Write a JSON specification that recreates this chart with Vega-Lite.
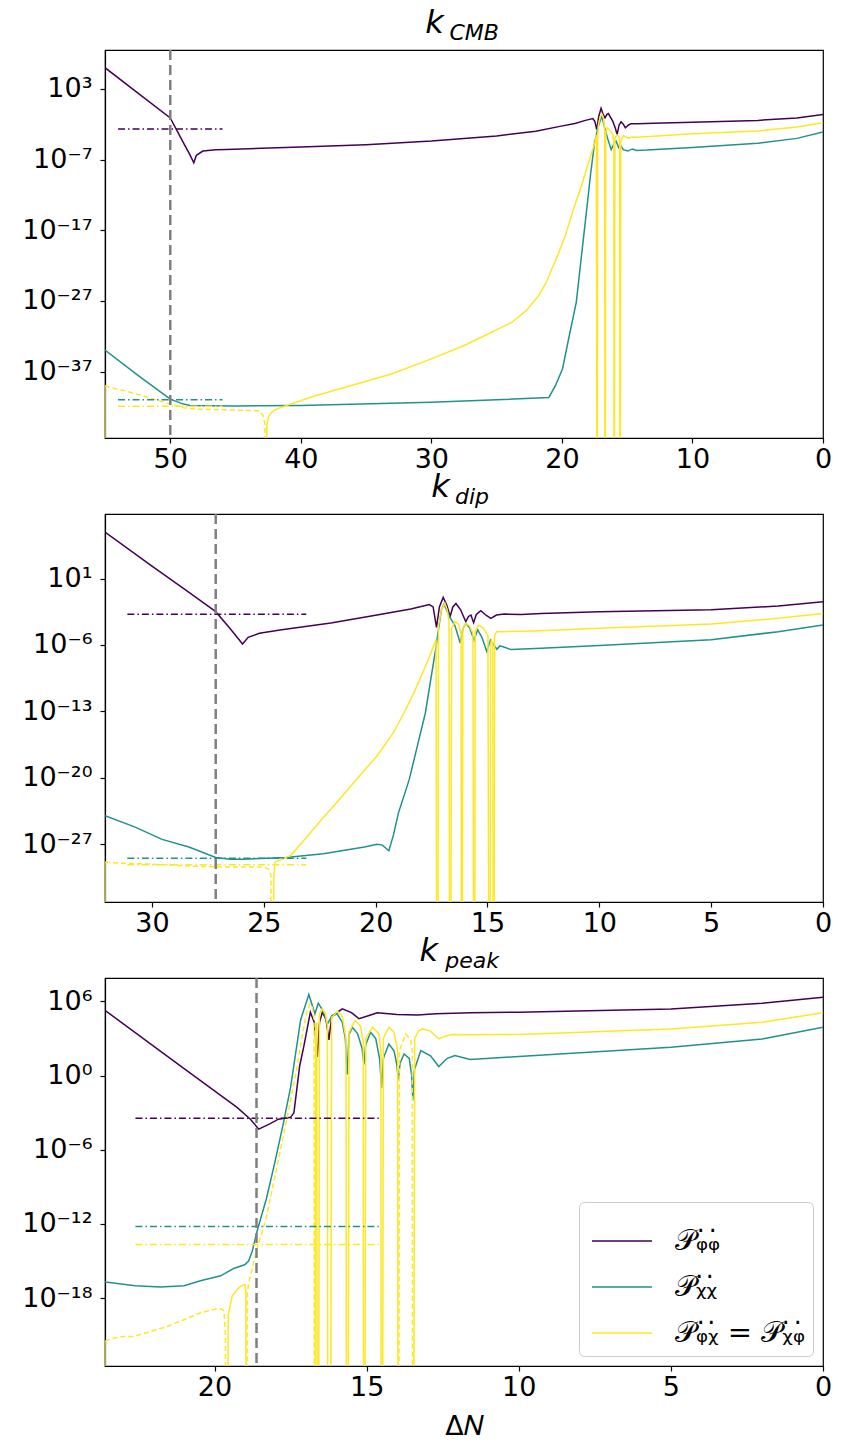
{
  "$schema": "https://vega.github.io/schema/vega-lite/v6.json",
  "padding": {"left": 4, "top": 6, "right": 16, "bottom": 6},
  "spacing": -3,
  "config": {
    "font": "DejaVu Sans",
    "view": {"stroke": "black", "strokeWidth": 1.2},
    "axis": {"grid": false, "labelFont": "DejaVu Sans", "labelFontSize": 27, "labelColor": "black", "tickColor": "black", "domainColor": "black", "tickSize": 5, "tickWidth": 1.2, "domainWidth": 1.2, "labelPadding": 3, "titleFont": "DejaVu Sans", "titleFontSize": 27, "titleFontWeight": "normal", "titleColor": "black", "labelFlush": false, "labelOverlap": false},
    "axisX": {"maxExtent": 40},
    "axisY": {"minExtent": 100, "maxExtent": 100, "labelPadding": 8},
    "title": {"font": "DejaVu Sans", "fontStyle": "italic", "fontWeight": "normal", "fontSize": 32, "color": "black", "subtitleFont": "DejaVu Sans", "subtitleFontStyle": "italic", "subtitleFontSize": 22, "subtitleColor": "black", "subtitlePadding": -17, "offset": 0, "anchor": "middle"},
    "line": {"strokeWidth": 1.5, "clip": true}
  },
  "resolve": {"scale": {"x": "independent", "y": "independent", "color": "independent"}, "legend": {"color": "independent"}},
  "datasets": {
    "vl": [{"p": 1, "x": 50}, {"p": 2, "x": 27.15}, {"p": 3, "x": 18.62}],
    "refs": [
      {"p": 1, "s": "pp", "x1": 54.0, "x2": 46.0, "y": 2.2e-3},
      {"p": 1, "s": "cc", "x1": 54.0, "x2": 46.0, "y": 1e-41},
      {"p": 1, "s": "pc", "x1": 54.0, "x2": 46.0, "y": 1.26e-42},
      {"p": 2, "s": "pp", "x1": 31.1, "x2": 23.1, "y": 1.66e-3},
      {"p": 2, "s": "cc", "x1": 31.1, "x2": 23.1, "y": 3.2e-29},
      {"p": 2, "s": "pc", "x1": 31.1, "x2": 23.1, "y": 6.9e-30},
      {"p": 3, "s": "pp", "x1": 22.6, "x2": 14.6, "y": 3.6e-4},
      {"p": 3, "s": "cc", "x1": 22.6, "x2": 14.6, "y": 6.3e-13},
      {"p": 3, "s": "pc", "x1": 22.6, "x2": 14.6, "y": 2.2e-14}
    ],
    "curves": [
      {"p": 1, "s": "pp", "g": 0, "x": 55.0, "y": 1e6},
      {"p": 1, "s": "pp", "g": 0, "x": 52.5, "y": 2.8e2},
      {"p": 1, "s": "pp", "g": 0, "x": 50.0, "y": 7.9e-2},
      {"p": 1, "s": "pp", "g": 0, "x": 49.0, "y": 2.5e-5},
      {"p": 1, "s": "pp", "g": 0, "x": 48.5, "y": 5e-7},
      {"p": 1, "s": "pp", "g": 0, "x": 48.2, "y": 3.5e-8},
      {"p": 1, "s": "pp", "g": 0, "x": 48.0, "y": 4e-7},
      {"p": 1, "s": "pp", "g": 0, "x": 47.5, "y": 1.6e-6},
      {"p": 1, "s": "pp", "g": 0, "x": 46.5, "y": 2.4e-6},
      {"p": 1, "s": "pp", "g": 0, "x": 45.7, "y": 2.7e-6},
      {"p": 1, "s": "pp", "g": 0, "x": 40.0, "y": 5.8e-6},
      {"p": 1, "s": "pp", "g": 0, "x": 35.0, "y": 1.26e-5},
      {"p": 1, "s": "pp", "g": 0, "x": 30.0, "y": 4.1e-5},
      {"p": 1, "s": "pp", "g": 0, "x": 25.0, "y": 2.2e-4},
      {"p": 1, "s": "pp", "g": 0, "x": 22.0, "y": 1e-3},
      {"p": 1, "s": "pp", "g": 0, "x": 20.06, "y": 5.4e-3},
      {"p": 1, "s": "pp", "g": 0, "x": 19.0, "y": 1.26e-2},
      {"p": 1, "s": "pp", "g": 0, "x": 18.2, "y": 3.5e-2},
      {"p": 1, "s": "pp", "g": 0, "x": 17.63, "y": 6.5e-2},
      {"p": 1, "s": "pp", "g": 0, "x": 17.48, "y": 2.5e-2},
      {"p": 1, "s": "pp", "g": 0, "x": 17.33, "y": 1.8e-3},
      {"p": 1, "s": "pp", "g": 0, "x": 17.18, "y": 0.126},
      {"p": 1, "s": "pp", "g": 0, "x": 17.0, "y": 1.78},
      {"p": 1, "s": "pp", "g": 0, "x": 16.85, "y": 0.28},
      {"p": 1, "s": "pp", "g": 0, "x": 16.7, "y": 7.9e-2},
      {"p": 1, "s": "pp", "g": 0, "x": 16.55, "y": 0.25},
      {"p": 1, "s": "pp", "g": 0, "x": 16.44, "y": 0.32},
      {"p": 1, "s": "pp", "g": 0, "x": 16.1, "y": 2.5e-2},
      {"p": 1, "s": "pp", "g": 0, "x": 15.9, "y": 2.5e-3},
      {"p": 1, "s": "pp", "g": 0, "x": 15.77, "y": 3.5e-4},
      {"p": 1, "s": "pp", "g": 0, "x": 15.62, "y": 7.9e-3},
      {"p": 1, "s": "pp", "g": 0, "x": 15.47, "y": 2.2e-2},
      {"p": 1, "s": "pp", "g": 0, "x": 15.3, "y": 1e-2},
      {"p": 1, "s": "pp", "g": 0, "x": 15.14, "y": 3.2e-3},
      {"p": 1, "s": "pp", "g": 0, "x": 14.9, "y": 7.9e-3},
      {"p": 1, "s": "pp", "g": 0, "x": 14.7, "y": 1.15e-2},
      {"p": 1, "s": "pp", "g": 0, "x": 14.2, "y": 1.15e-2},
      {"p": 1, "s": "pp", "g": 0, "x": 13.0, "y": 1.4e-2},
      {"p": 1, "s": "pp", "g": 0, "x": 10.0, "y": 1.9e-2},
      {"p": 1, "s": "pp", "g": 0, "x": 5.0, "y": 3.5e-2},
      {"p": 1, "s": "pp", "g": 0, "x": 2.0, "y": 7.9e-2},
      {"p": 1, "s": "pp", "g": 0, "x": 0.0, "y": 0.23},

      {"p": 1, "s": "cc", "g": 0, "x": 55.0, "y": 1.1e-34},
      {"p": 1, "s": "cc", "g": 0, "x": 52.5, "y": 3.2e-38},
      {"p": 1, "s": "cc", "g": 0, "x": 50.0, "y": 1.26e-41},
      {"p": 1, "s": "cc", "g": 0, "x": 49.0, "y": 2.5e-42},
      {"p": 1, "s": "cc", "g": 0, "x": 48.5, "y": 1.6e-42},
      {"p": 1, "s": "cc", "g": 0, "x": 45.0, "y": 1.4e-42},
      {"p": 1, "s": "cc", "g": 0, "x": 40.0, "y": 1.6e-42},
      {"p": 1, "s": "cc", "g": 0, "x": 30.0, "y": 4.5e-42},
      {"p": 1, "s": "cc", "g": 0, "x": 25.0, "y": 1e-41},
      {"p": 1, "s": "cc", "g": 0, "x": 21.0, "y": 2.2e-41},
      {"p": 1, "s": "cc", "g": 0, "x": 20.5, "y": 1e-39},
      {"p": 1, "s": "cc", "g": 0, "x": 19.95, "y": 2.5e-37},
      {"p": 1, "s": "cc", "g": 0, "x": 19.5, "y": 3.2e-33},
      {"p": 1, "s": "cc", "g": 0, "x": 18.9, "y": 6.3e-28},
      {"p": 1, "s": "cc", "g": 0, "x": 18.5, "y": 2.5e-21},
      {"p": 1, "s": "cc", "g": 0, "x": 18.1, "y": 8.9e-15},
      {"p": 1, "s": "cc", "g": 0, "x": 17.8, "y": 1e-9},
      {"p": 1, "s": "cc", "g": 0, "x": 17.5, "y": 2.5e-5},
      {"p": 1, "s": "cc", "g": 0, "x": 17.2, "y": 6.3e-3},
      {"p": 1, "s": "cc", "g": 0, "x": 16.95, "y": 0.138},
      {"p": 1, "s": "cc", "g": 0, "x": 16.75, "y": 5e-3},
      {"p": 1, "s": "cc", "g": 0, "x": 16.5, "y": 1e-4},
      {"p": 1, "s": "cc", "g": 0, "x": 16.23, "y": 2.7e-6},
      {"p": 1, "s": "cc", "g": 0, "x": 16.0, "y": 2e-5},
      {"p": 1, "s": "cc", "g": 0, "x": 15.85, "y": 4e-5},
      {"p": 1, "s": "cc", "g": 0, "x": 15.65, "y": 5e-6},
      {"p": 1, "s": "cc", "g": 0, "x": 15.5, "y": 1e-5},
      {"p": 1, "s": "cc", "g": 0, "x": 15.3, "y": 2.5e-6},
      {"p": 1, "s": "cc", "g": 0, "x": 14.95, "y": 1.6e-6},
      {"p": 1, "s": "cc", "g": 0, "x": 14.6, "y": 3.2e-6},
      {"p": 1, "s": "cc", "g": 0, "x": 14.3, "y": 2e-6},
      {"p": 1, "s": "cc", "g": 0, "x": 13.5, "y": 2.2e-6},
      {"p": 1, "s": "cc", "g": 0, "x": 10.0, "y": 5e-6},
      {"p": 1, "s": "cc", "g": 0, "x": 5.0, "y": 2e-5},
      {"p": 1, "s": "cc", "g": 0, "x": 2.0, "y": 1e-4},
      {"p": 1, "s": "cc", "g": 0, "x": 0.0, "y": 7.9e-4},

      {"p": 1, "s": "pc", "g": 0, "x": 55.0, "y": 1e-60},
      {"p": 1, "s": "pc", "g": 0, "x": 55.0, "y": 1e-39},
      {"p": 1, "s": "pc", "g": 1, "x": 42.65, "y": 1e-60},
      {"p": 1, "s": "pc", "g": 1, "x": 42.6, "y": 3.2e-45},
      {"p": 1, "s": "pc", "g": 1, "x": 42.45, "y": 5e-44},
      {"p": 1, "s": "pc", "g": 1, "x": 42.2, "y": 2e-43},
      {"p": 1, "s": "pc", "g": 1, "x": 41.9, "y": 4.5e-43},
      {"p": 1, "s": "pc", "g": 1, "x": 41.1, "y": 1.6e-42},
      {"p": 1, "s": "pc", "g": 1, "x": 39.0, "y": 3.2e-41},
      {"p": 1, "s": "pc", "g": 1, "x": 36.2, "y": 1e-39},
      {"p": 1, "s": "pc", "g": 1, "x": 33.0, "y": 5e-38},
      {"p": 1, "s": "pc", "g": 1, "x": 30.0, "y": 6.3e-36},
      {"p": 1, "s": "pc", "g": 1, "x": 27.5, "y": 5e-34},
      {"p": 1, "s": "pc", "g": 1, "x": 25.9, "y": 1.26e-32},
      {"p": 1, "s": "pc", "g": 1, "x": 23.85, "y": 8.9e-31},
      {"p": 1, "s": "pc", "g": 1, "x": 22.7, "y": 5e-29},
      {"p": 1, "s": "pc", "g": 1, "x": 21.8, "y": 5e-27},
      {"p": 1, "s": "pc", "g": 1, "x": 21.2, "y": 4e-25},
      {"p": 1, "s": "pc", "g": 1, "x": 20.77, "y": 3.2e-23},
      {"p": 1, "s": "pc", "g": 1, "x": 20.25, "y": 6.3e-21},
      {"p": 1, "s": "pc", "g": 1, "x": 19.74, "y": 1.6e-18},
      {"p": 1, "s": "pc", "g": 1, "x": 19.12, "y": 8.9e-15},
      {"p": 1, "s": "pc", "g": 1, "x": 18.5, "y": 2e-11},
      {"p": 1, "s": "pc", "g": 1, "x": 17.89, "y": 1e-7},
      {"p": 1, "s": "pc", "g": 1, "x": 17.47, "y": 2.5e-5},
      {"p": 1, "s": "pc", "g": 1, "x": 17.36, "y": 3.2e-4},
      {"p": 1, "s": "pc", "g": 1, "x": 17.31, "y": 1e-60},
      {"p": 1, "s": "pc", "g": 2, "x": 17.29, "y": 1e-60},
      {"p": 1, "s": "pc", "g": 2, "x": 17.26, "y": 1e-4},
      {"p": 1, "s": "pc", "g": 2, "x": 17.2, "y": 1e-2},
      {"p": 1, "s": "pc", "g": 2, "x": 17.05, "y": 0.126},
      {"p": 1, "s": "pc", "g": 2, "x": 16.9, "y": 0.23},
      {"p": 1, "s": "pc", "g": 2, "x": 16.8, "y": 5e-2},
      {"p": 1, "s": "pc", "g": 2, "x": 16.72, "y": 1e-3},
      {"p": 1, "s": "pc", "g": 2, "x": 16.7, "y": 1e-60},
      {"p": 1, "s": "pc", "g": 3, "x": 16.68, "y": 1e-60},
      {"p": 1, "s": "pc", "g": 3, "x": 16.64, "y": 1e-3},
      {"p": 1, "s": "pc", "g": 3, "x": 16.5, "y": 3.2e-3},
      {"p": 1, "s": "pc", "g": 3, "x": 16.3, "y": 1.26e-3},
      {"p": 1, "s": "pc", "g": 3, "x": 16.1, "y": 3.2e-4},
      {"p": 1, "s": "pc", "g": 3, "x": 16.02, "y": 3.2e-5},
      {"p": 1, "s": "pc", "g": 3, "x": 16.0, "y": 1e-60},
      {"p": 1, "s": "pc", "g": 4, "x": 15.98, "y": 1e-60},
      {"p": 1, "s": "pc", "g": 4, "x": 15.94, "y": 1e-4},
      {"p": 1, "s": "pc", "g": 4, "x": 15.8, "y": 3.2e-4},
      {"p": 1, "s": "pc", "g": 4, "x": 15.65, "y": 2e-4},
      {"p": 1, "s": "pc", "g": 4, "x": 15.57, "y": 3.2e-5},
      {"p": 1, "s": "pc", "g": 4, "x": 15.55, "y": 1e-60},
      {"p": 1, "s": "pc", "g": 5, "x": 15.53, "y": 1e-60},
      {"p": 1, "s": "pc", "g": 5, "x": 15.49, "y": 3.2e-5},
      {"p": 1, "s": "pc", "g": 5, "x": 15.3, "y": 2.5e-4},
      {"p": 1, "s": "pc", "g": 5, "x": 15.21, "y": 2e-4},
      {"p": 1, "s": "pc", "g": 5, "x": 14.9, "y": 1.1e-4},
      {"p": 1, "s": "pc", "g": 5, "x": 14.6, "y": 1.6e-4},
      {"p": 1, "s": "pc", "g": 5, "x": 14.3, "y": 1.4e-4},
      {"p": 1, "s": "pc", "g": 5, "x": 13.0, "y": 2e-4},
      {"p": 1, "s": "pc", "g": 5, "x": 10.0, "y": 4.5e-4},
      {"p": 1, "s": "pc", "g": 5, "x": 5.0, "y": 1.1e-3},
      {"p": 1, "s": "pc", "g": 5, "x": 2.0, "y": 4e-3},
      {"p": 1, "s": "pc", "g": 5, "x": 0.0, "y": 1.6e-2},

      {"p": 1, "s": "pcn", "g": 0, "x": 55.0, "y": 1e-39},
      {"p": 1, "s": "pcn", "g": 0, "x": 54.5, "y": 5e-40},
      {"p": 1, "s": "pcn", "g": 0, "x": 53.5, "y": 2e-40},
      {"p": 1, "s": "pcn", "g": 0, "x": 52.0, "y": 3.2e-41},
      {"p": 1, "s": "pcn", "g": 0, "x": 50.0, "y": 2.5e-42},
      {"p": 1, "s": "pcn", "g": 0, "x": 49.0, "y": 7.9e-43},
      {"p": 1, "s": "pcn", "g": 0, "x": 48.2, "y": 5e-43},
      {"p": 1, "s": "pcn", "g": 0, "x": 46.0, "y": 4e-43},
      {"p": 1, "s": "pcn", "g": 0, "x": 44.0, "y": 3.2e-43},
      {"p": 1, "s": "pcn", "g": 0, "x": 43.2, "y": 2.8e-43},
      {"p": 1, "s": "pcn", "g": 0, "x": 42.9, "y": 6.3e-44},
      {"p": 1, "s": "pcn", "g": 0, "x": 42.75, "y": 3.2e-45},
      {"p": 1, "s": "pcn", "g": 0, "x": 42.7, "y": 1e-60},

      {"p": 2, "s": "pp", "g": 0, "x": 32.1, "y": 7.9e5},
      {"p": 2, "s": "pp", "g": 0, "x": 30.0, "y": 2e2},
      {"p": 2, "s": "pp", "g": 0, "x": 28.5, "y": 0.63},
      {"p": 2, "s": "pp", "g": 0, "x": 27.15, "y": 3.2e-3},
      {"p": 2, "s": "pp", "g": 0, "x": 26.5, "y": 5e-5},
      {"p": 2, "s": "pp", "g": 0, "x": 25.95, "y": 1.26e-6},
      {"p": 2, "s": "pp", "g": 0, "x": 25.7, "y": 6.3e-6},
      {"p": 2, "s": "pp", "g": 0, "x": 25.2, "y": 1.7e-5},
      {"p": 2, "s": "pp", "g": 0, "x": 24.2, "y": 4e-5},
      {"p": 2, "s": "pp", "g": 0, "x": 22.0, "y": 2e-4},
      {"p": 2, "s": "pp", "g": 0, "x": 19.94, "y": 1.4e-3},
      {"p": 2, "s": "pp", "g": 0, "x": 18.43, "y": 6e-3},
      {"p": 2, "s": "pp", "g": 0, "x": 17.6, "y": 1.8e-2},
      {"p": 2, "s": "pp", "g": 0, "x": 17.43, "y": 1e-2},
      {"p": 2, "s": "pp", "g": 0, "x": 17.28, "y": 7.2e-5},
      {"p": 2, "s": "pp", "g": 0, "x": 17.15, "y": 1e-2},
      {"p": 2, "s": "pp", "g": 0, "x": 16.98, "y": 0.1},
      {"p": 2, "s": "pp", "g": 0, "x": 16.82, "y": 1.6e-2},
      {"p": 2, "s": "pp", "g": 0, "x": 16.67, "y": 1e-3},
      {"p": 2, "s": "pp", "g": 0, "x": 16.55, "y": 1e-2},
      {"p": 2, "s": "pp", "g": 0, "x": 16.41, "y": 2.3e-2},
      {"p": 2, "s": "pp", "g": 0, "x": 16.2, "y": 5e-3},
      {"p": 2, "s": "pp", "g": 0, "x": 15.97, "y": 2.8e-4},
      {"p": 2, "s": "pp", "g": 0, "x": 15.85, "y": 1e-3},
      {"p": 2, "s": "pp", "g": 0, "x": 15.74, "y": 1.4e-3},
      {"p": 2, "s": "pp", "g": 0, "x": 15.62, "y": 2.2e-4},
      {"p": 2, "s": "pp", "g": 0, "x": 15.5, "y": 1.6e-3},
      {"p": 2, "s": "pp", "g": 0, "x": 15.3, "y": 4e-3},
      {"p": 2, "s": "pp", "g": 0, "x": 15.05, "y": 1.26e-3},
      {"p": 2, "s": "pp", "g": 0, "x": 14.85, "y": 6.3e-4},
      {"p": 2, "s": "pp", "g": 0, "x": 14.6, "y": 1.4e-3},
      {"p": 2, "s": "pp", "g": 0, "x": 14.25, "y": 1.8e-3},
      {"p": 2, "s": "pp", "g": 0, "x": 13.5, "y": 1.6e-3},
      {"p": 2, "s": "pp", "g": 0, "x": 12.6, "y": 2e-3},
      {"p": 2, "s": "pp", "g": 0, "x": 10.0, "y": 3.2e-3},
      {"p": 2, "s": "pp", "g": 0, "x": 5.0, "y": 5e-3},
      {"p": 2, "s": "pp", "g": 0, "x": 2.0, "y": 1.26e-2},
      {"p": 2, "s": "pp", "g": 0, "x": 0.0, "y": 3.5e-2},

      {"p": 2, "s": "cc", "g": 0, "x": 32.1, "y": 1e-24},
      {"p": 2, "s": "cc", "g": 0, "x": 30.75, "y": 6.3e-26},
      {"p": 2, "s": "cc", "g": 0, "x": 29.55, "y": 3.2e-27},
      {"p": 2, "s": "cc", "g": 0, "x": 28.35, "y": 5e-28},
      {"p": 2, "s": "cc", "g": 0, "x": 27.15, "y": 4e-29},
      {"p": 2, "s": "cc", "g": 0, "x": 26.5, "y": 2.5e-29},
      {"p": 2, "s": "cc", "g": 0, "x": 25.95, "y": 2.5e-29},
      {"p": 2, "s": "cc", "g": 0, "x": 24.0, "y": 4e-29},
      {"p": 2, "s": "cc", "g": 0, "x": 22.34, "y": 1e-28},
      {"p": 2, "s": "cc", "g": 0, "x": 20.5, "y": 5e-28},
      {"p": 2, "s": "cc", "g": 0, "x": 19.94, "y": 1e-27},
      {"p": 2, "s": "cc", "g": 0, "x": 19.7, "y": 7.9e-28},
      {"p": 2, "s": "cc", "g": 0, "x": 19.41, "y": 2e-28},
      {"p": 2, "s": "cc", "g": 0, "x": 19.2, "y": 1e-26},
      {"p": 2, "s": "cc", "g": 0, "x": 18.98, "y": 2e-24},
      {"p": 2, "s": "cc", "g": 0, "x": 18.5, "y": 6.3e-21},
      {"p": 2, "s": "cc", "g": 0, "x": 18.14, "y": 2e-17},
      {"p": 2, "s": "cc", "g": 0, "x": 17.78, "y": 6.3e-14},
      {"p": 2, "s": "cc", "g": 0, "x": 17.54, "y": 2e-10},
      {"p": 2, "s": "cc", "g": 0, "x": 17.3, "y": 6.3e-7},
      {"p": 2, "s": "cc", "g": 0, "x": 17.2, "y": 3.2e-5},
      {"p": 2, "s": "cc", "g": 0, "x": 17.05, "y": 6.3e-3},
      {"p": 2, "s": "cc", "g": 0, "x": 16.94, "y": 2e-2},
      {"p": 2, "s": "cc", "g": 0, "x": 16.7, "y": 1e-3},
      {"p": 2, "s": "cc", "g": 0, "x": 16.45, "y": 1e-4},
      {"p": 2, "s": "cc", "g": 0, "x": 16.22, "y": 1.6e-6},
      {"p": 2, "s": "cc", "g": 0, "x": 16.1, "y": 5e-5},
      {"p": 2, "s": "cc", "g": 0, "x": 15.97, "y": 1.9e-4},
      {"p": 2, "s": "cc", "g": 0, "x": 15.8, "y": 6.3e-5},
      {"p": 2, "s": "cc", "g": 0, "x": 15.6, "y": 3.2e-6},
      {"p": 2, "s": "cc", "g": 0, "x": 15.44, "y": 4e-5},
      {"p": 2, "s": "cc", "g": 0, "x": 15.25, "y": 6.3e-6},
      {"p": 2, "s": "cc", "g": 0, "x": 15.03, "y": 2e-7},
      {"p": 2, "s": "cc", "g": 0, "x": 14.87, "y": 3.2e-6},
      {"p": 2, "s": "cc", "g": 0, "x": 14.58, "y": 3.5e-7},
      {"p": 2, "s": "cc", "g": 0, "x": 14.45, "y": 7.9e-7},
      {"p": 2, "s": "cc", "g": 0, "x": 14.3, "y": 6.3e-7},
      {"p": 2, "s": "cc", "g": 0, "x": 13.95, "y": 3.2e-7},
      {"p": 2, "s": "cc", "g": 0, "x": 12.6, "y": 4.5e-7},
      {"p": 2, "s": "cc", "g": 0, "x": 10.0, "y": 8.5e-7},
      {"p": 2, "s": "cc", "g": 0, "x": 5.0, "y": 3.5e-6},
      {"p": 2, "s": "cc", "g": 0, "x": 2.0, "y": 2.5e-5},
      {"p": 2, "s": "cc", "g": 0, "x": 0.0, "y": 1.26e-4},

      {"p": 2, "s": "pc", "g": 0, "x": 32.1, "y": 1e-60},
      {"p": 2, "s": "pc", "g": 0, "x": 32.1, "y": 1.26e-29},
      {"p": 2, "s": "pc", "g": 1, "x": 24.6, "y": 1e-60},
      {"p": 2, "s": "pc", "g": 1, "x": 24.55, "y": 3.2e-31},
      {"p": 2, "s": "pc", "g": 1, "x": 24.5, "y": 1.26e-29},
      {"p": 2, "s": "pc", "g": 1, "x": 23.8, "y": 6.3e-29},
      {"p": 2, "s": "pc", "g": 1, "x": 23.06, "y": 6.3e-27},
      {"p": 2, "s": "pc", "g": 1, "x": 22.34, "y": 6.3e-25},
      {"p": 2, "s": "pc", "g": 1, "x": 21.62, "y": 5e-23},
      {"p": 2, "s": "pc", "g": 1, "x": 20.9, "y": 5e-21},
      {"p": 2, "s": "pc", "g": 1, "x": 20.42, "y": 1e-19},
      {"p": 2, "s": "pc", "g": 1, "x": 19.94, "y": 2e-18},
      {"p": 2, "s": "pc", "g": 1, "x": 19.22, "y": 5e-16},
      {"p": 2, "s": "pc", "g": 1, "x": 18.74, "y": 6.3e-14},
      {"p": 2, "s": "pc", "g": 1, "x": 18.26, "y": 1.26e-11},
      {"p": 2, "s": "pc", "g": 1, "x": 17.78, "y": 5e-9},
      {"p": 2, "s": "pc", "g": 1, "x": 17.6, "y": 5e-8},
      {"p": 2, "s": "pc", "g": 1, "x": 17.4, "y": 1e-6},
      {"p": 2, "s": "pc", "g": 1, "x": 17.3, "y": 3.2e-6},
      {"p": 2, "s": "pc", "g": 1, "x": 17.25, "y": 1e-60},
      {"p": 2, "s": "pc", "g": 2, "x": 17.23, "y": 1e-60},
      {"p": 2, "s": "pc", "g": 2, "x": 17.19, "y": 1e-4},
      {"p": 2, "s": "pc", "g": 2, "x": 17.05, "y": 6.3e-3},
      {"p": 2, "s": "pc", "g": 2, "x": 16.9, "y": 2.3e-2},
      {"p": 2, "s": "pc", "g": 2, "x": 16.8, "y": 5e-3},
      {"p": 2, "s": "pc", "g": 2, "x": 16.72, "y": 3.2e-4},
      {"p": 2, "s": "pc", "g": 2, "x": 16.68, "y": 1e-60},
      {"p": 2, "s": "pc", "g": 3, "x": 16.66, "y": 1e-60},
      {"p": 2, "s": "pc", "g": 3, "x": 16.6, "y": 6.3e-5},
      {"p": 2, "s": "pc", "g": 3, "x": 16.45, "y": 2.8e-4},
      {"p": 2, "s": "pc", "g": 3, "x": 16.3, "y": 1.6e-4},
      {"p": 2, "s": "pc", "g": 3, "x": 16.18, "y": 1.6e-5},
      {"p": 2, "s": "pc", "g": 3, "x": 16.16, "y": 1e-60},
      {"p": 2, "s": "pc", "g": 4, "x": 16.14, "y": 1e-60},
      {"p": 2, "s": "pc", "g": 4, "x": 16.1, "y": 5e-5},
      {"p": 2, "s": "pc", "g": 4, "x": 15.97, "y": 1.9e-4},
      {"p": 2, "s": "pc", "g": 4, "x": 15.8, "y": 1e-4},
      {"p": 2, "s": "pc", "g": 4, "x": 15.65, "y": 1.6e-5},
      {"p": 2, "s": "pc", "g": 4, "x": 15.6, "y": 1e-60},
      {"p": 2, "s": "pc", "g": 5, "x": 15.58, "y": 1e-60},
      {"p": 2, "s": "pc", "g": 5, "x": 15.55, "y": 2.5e-5},
      {"p": 2, "s": "pc", "g": 5, "x": 15.4, "y": 1.26e-4},
      {"p": 2, "s": "pc", "g": 5, "x": 15.2, "y": 6.3e-5},
      {"p": 2, "s": "pc", "g": 5, "x": 14.98, "y": 1e-5},
      {"p": 2, "s": "pc", "g": 5, "x": 14.92, "y": 1e-60},
      {"p": 2, "s": "pc", "g": 6, "x": 14.9, "y": 1e-60},
      {"p": 2, "s": "pc", "g": 6, "x": 14.86, "y": 1.6e-6},
      {"p": 2, "s": "pc", "g": 6, "x": 14.82, "y": 3.2e-6},
      {"p": 2, "s": "pc", "g": 6, "x": 14.76, "y": 1.26e-6},
      {"p": 2, "s": "pc", "g": 6, "x": 14.74, "y": 1e-60},
      {"p": 2, "s": "pc", "g": 7, "x": 14.72, "y": 1e-60},
      {"p": 2, "s": "pc", "g": 7, "x": 14.68, "y": 1e-5},
      {"p": 2, "s": "pc", "g": 7, "x": 14.6, "y": 2.5e-5},
      {"p": 2, "s": "pc", "g": 7, "x": 14.4, "y": 2.5e-5},
      {"p": 2, "s": "pc", "g": 7, "x": 13.5, "y": 2.8e-5},
      {"p": 2, "s": "pc", "g": 7, "x": 12.6, "y": 3.2e-5},
      {"p": 2, "s": "pc", "g": 7, "x": 10.0, "y": 5.6e-5},
      {"p": 2, "s": "pc", "g": 7, "x": 5.0, "y": 1.6e-4},
      {"p": 2, "s": "pc", "g": 7, "x": 2.0, "y": 6.3e-4},
      {"p": 2, "s": "pc", "g": 7, "x": 0.0, "y": 2.1e-3},

      {"p": 2, "s": "pcn", "g": 0, "x": 32.1, "y": 1.26e-29},
      {"p": 2, "s": "pcn", "g": 0, "x": 31.5, "y": 1e-29},
      {"p": 2, "s": "pcn", "g": 0, "x": 30.0, "y": 7.9e-30},
      {"p": 2, "s": "pcn", "g": 0, "x": 28.5, "y": 5e-30},
      {"p": 2, "s": "pcn", "g": 0, "x": 27.15, "y": 4e-30},
      {"p": 2, "s": "pcn", "g": 0, "x": 25.0, "y": 4e-30},
      {"p": 2, "s": "pcn", "g": 0, "x": 24.8, "y": 2.5e-30},
      {"p": 2, "s": "pcn", "g": 0, "x": 24.68, "y": 5e-31},
      {"p": 2, "s": "pcn", "g": 0, "x": 24.63, "y": 1e-60},

      {"p": 3, "s": "pp", "g": 0, "x": 23.6, "y": 1.9e5},
      {"p": 3, "s": "pp", "g": 0, "x": 21.0, "y": 3.7},
      {"p": 3, "s": "pp", "g": 0, "x": 19.26, "y": 2.7e-3},
      {"p": 3, "s": "pp", "g": 0, "x": 18.82, "y": 3e-4},
      {"p": 3, "s": "pp", "g": 0, "x": 18.55, "y": 4.7e-5},
      {"p": 3, "s": "pp", "g": 0, "x": 18.2, "y": 1.2e-4},
      {"p": 3, "s": "pp", "g": 0, "x": 17.9, "y": 3e-4},
      {"p": 3, "s": "pp", "g": 0, "x": 17.5, "y": 4.2e-4},
      {"p": 3, "s": "pp", "g": 0, "x": 17.39, "y": 1e-3},
      {"p": 3, "s": "pp", "g": 0, "x": 17.2, "y": 6.3},
      {"p": 3, "s": "pp", "g": 0, "x": 17.06, "y": 2.7e2},
      {"p": 3, "s": "pp", "g": 0, "x": 16.85, "y": 1.35e5},
      {"p": 3, "s": "pp", "g": 0, "x": 16.72, "y": 2e4},
      {"p": 3, "s": "pp", "g": 0, "x": 16.62, "y": 32},
      {"p": 3, "s": "pp", "g": 0, "x": 16.55, "y": 2e4},
      {"p": 3, "s": "pp", "g": 0, "x": 16.46, "y": 1.26e5},
      {"p": 3, "s": "pp", "g": 0, "x": 16.34, "y": 4e4},
      {"p": 3, "s": "pp", "g": 0, "x": 16.24, "y": 7.9e2},
      {"p": 3, "s": "pp", "g": 0, "x": 16.15, "y": 6.3e4},
      {"p": 3, "s": "pp", "g": 0, "x": 15.8, "y": 2.5e5},
      {"p": 3, "s": "pp", "g": 0, "x": 15.5, "y": 1.26e5},
      {"p": 3, "s": "pp", "g": 0, "x": 15.25, "y": 4e4},
      {"p": 3, "s": "pp", "g": 0, "x": 14.92, "y": 7.4e4},
      {"p": 3, "s": "pp", "g": 0, "x": 14.65, "y": 1.2e5},
      {"p": 3, "s": "pp", "g": 0, "x": 14.0, "y": 8.9e4},
      {"p": 3, "s": "pp", "g": 0, "x": 13.33, "y": 7.9e4},
      {"p": 3, "s": "pp", "g": 0, "x": 12.73, "y": 1e5},
      {"p": 3, "s": "pp", "g": 0, "x": 11.58, "y": 1.2e5},
      {"p": 3, "s": "pp", "g": 0, "x": 10.0, "y": 1.35e5},
      {"p": 3, "s": "pp", "g": 0, "x": 5.0, "y": 2.5e5},
      {"p": 3, "s": "pp", "g": 0, "x": 2.0, "y": 7e5},
      {"p": 3, "s": "pp", "g": 0, "x": 0.0, "y": 2.2e6},

      {"p": 3, "s": "cc", "g": 0, "x": 23.6, "y": 2e-17},
      {"p": 3, "s": "cc", "g": 0, "x": 22.6, "y": 1e-17},
      {"p": 3, "s": "cc", "g": 0, "x": 21.78, "y": 7.9e-18},
      {"p": 3, "s": "cc", "g": 0, "x": 21.0, "y": 1e-17},
      {"p": 3, "s": "cc", "g": 0, "x": 20.46, "y": 2.5e-17},
      {"p": 3, "s": "cc", "g": 0, "x": 19.8, "y": 6.3e-17},
      {"p": 3, "s": "cc", "g": 0, "x": 19.37, "y": 2.5e-16},
      {"p": 3, "s": "cc", "g": 0, "x": 19.01, "y": 5e-16},
      {"p": 3, "s": "cc", "g": 0, "x": 18.88, "y": 1e-15},
      {"p": 3, "s": "cc", "g": 0, "x": 18.76, "y": 6.3e-15},
      {"p": 3, "s": "cc", "g": 0, "x": 18.6, "y": 2.7e-13},
      {"p": 3, "s": "cc", "g": 0, "x": 18.3, "y": 1e-10},
      {"p": 3, "s": "cc", "g": 0, "x": 18.03, "y": 6.8e-8},
      {"p": 3, "s": "cc", "g": 0, "x": 17.75, "y": 1e-4},
      {"p": 3, "s": "cc", "g": 0, "x": 17.5, "y": 0.11},
      {"p": 3, "s": "cc", "g": 0, "x": 17.17, "y": 3.2e4},
      {"p": 3, "s": "cc", "g": 0, "x": 16.9, "y": 3.7e6},
      {"p": 3, "s": "cc", "g": 0, "x": 16.7, "y": 1e5},
      {"p": 3, "s": "cc", "g": 0, "x": 16.59, "y": 7.2e5},
      {"p": 3, "s": "cc", "g": 0, "x": 16.45, "y": 2e5},
      {"p": 3, "s": "cc", "g": 0, "x": 16.29, "y": 1.5e4},
      {"p": 3, "s": "cc", "g": 0, "x": 16.15, "y": 6.3e4},
      {"p": 3, "s": "cc", "g": 0, "x": 15.97, "y": 1e5},
      {"p": 3, "s": "cc", "g": 0, "x": 15.8, "y": 2e4},
      {"p": 3, "s": "cc", "g": 0, "x": 15.7, "y": 1e3},
      {"p": 3, "s": "cc", "g": 0, "x": 15.64, "y": 1.26},
      {"p": 3, "s": "cc", "g": 0, "x": 15.58, "y": 2e3},
      {"p": 3, "s": "cc", "g": 0, "x": 15.47, "y": 8.3e3},
      {"p": 3, "s": "cc", "g": 0, "x": 15.3, "y": 2.5e3},
      {"p": 3, "s": "cc", "g": 0, "x": 15.15, "y": 1.6e2},
      {"p": 3, "s": "cc", "g": 0, "x": 15.09, "y": 7.9},
      {"p": 3, "s": "cc", "g": 0, "x": 15.03, "y": 3.2e2},
      {"p": 3, "s": "cc", "g": 0, "x": 14.87, "y": 3.2e3},
      {"p": 3, "s": "cc", "g": 0, "x": 14.7, "y": 1e3},
      {"p": 3, "s": "cc", "g": 0, "x": 14.57, "y": 20},
      {"p": 3, "s": "cc", "g": 0, "x": 14.51, "y": 0.1},
      {"p": 3, "s": "cc", "g": 0, "x": 14.45, "y": 25},
      {"p": 3, "s": "cc", "g": 0, "x": 14.27, "y": 3.6e2},
      {"p": 3, "s": "cc", "g": 0, "x": 14.1, "y": 1e2},
      {"p": 3, "s": "cc", "g": 0, "x": 14.01, "y": 8},
      {"p": 3, "s": "cc", "g": 0, "x": 13.96, "y": 0.5},
      {"p": 3, "s": "cc", "g": 0, "x": 13.9, "y": 10},
      {"p": 3, "s": "cc", "g": 0, "x": 13.77, "y": 56},
      {"p": 3, "s": "cc", "g": 0, "x": 13.6, "y": 25},
      {"p": 3, "s": "cc", "g": 0, "x": 13.52, "y": 1},
      {"p": 3, "s": "cc", "g": 0, "x": 13.48, "y": 1e-2},
      {"p": 3, "s": "cc", "g": 0, "x": 13.43, "y": 3},
      {"p": 3, "s": "cc", "g": 0, "x": 13.22, "y": 1.07e2},
      {"p": 3, "s": "cc", "g": 0, "x": 12.9, "y": 40},
      {"p": 3, "s": "cc", "g": 0, "x": 12.63, "y": 5.4},
      {"p": 3, "s": "cc", "g": 0, "x": 12.35, "y": 25},
      {"p": 3, "s": "cc", "g": 0, "x": 12.1, "y": 42},
      {"p": 3, "s": "cc", "g": 0, "x": 11.6, "y": 20},
      {"p": 3, "s": "cc", "g": 0, "x": 10.0, "y": 35},
      {"p": 3, "s": "cc", "g": 0, "x": 5.0, "y": 2e2},
      {"p": 3, "s": "cc", "g": 0, "x": 2.0, "y": 9.3e2},
      {"p": 3, "s": "cc", "g": 0, "x": 0.0, "y": 8.3e3},

      {"p": 3, "s": "pc", "g": 0, "x": 23.6, "y": 1e-60},
      {"p": 3, "s": "pc", "g": 0, "x": 23.6, "y": 3.2e-22},
      {"p": 3, "s": "pc", "g": 1, "x": 19.6, "y": 1e-60},
      {"p": 3, "s": "pc", "g": 1, "x": 19.55, "y": 4e-20},
      {"p": 3, "s": "pc", "g": 1, "x": 19.42, "y": 1.45e-18},
      {"p": 3, "s": "pc", "g": 1, "x": 19.25, "y": 5e-18},
      {"p": 3, "s": "pc", "g": 1, "x": 19.14, "y": 9.3e-18},
      {"p": 3, "s": "pc", "g": 1, "x": 19.0, "y": 1.26e-17},
      {"p": 3, "s": "pc", "g": 1, "x": 18.97, "y": 3.2e-18},
      {"p": 3, "s": "pc", "g": 1, "x": 18.95, "y": 1e-60},
      {"p": 3, "s": "pc", "g": 2, "x": 16.71, "y": 1e-60},
      {"p": 3, "s": "pc", "g": 2, "x": 16.68, "y": 1e4},
      {"p": 3, "s": "pc", "g": 2, "x": 16.64, "y": 2e4},
      {"p": 3, "s": "pc", "g": 2, "x": 16.61, "y": 1e-60},
      {"p": 3, "s": "pc", "g": 3, "x": 16.6, "y": 1e-60},
      {"p": 3, "s": "pc", "g": 3, "x": 16.55, "y": 1e5},
      {"p": 3, "s": "pc", "g": 3, "x": 16.46, "y": 2.5e5},
      {"p": 3, "s": "pc", "g": 3, "x": 16.35, "y": 1e5},
      {"p": 3, "s": "pc", "g": 3, "x": 16.29, "y": 1e4},
      {"p": 3, "s": "pc", "g": 3, "x": 16.27, "y": 1e-60},
      {"p": 3, "s": "pc", "g": 4, "x": 16.21, "y": 1e-60},
      {"p": 3, "s": "pc", "g": 4, "x": 16.15, "y": 5e4},
      {"p": 3, "s": "pc", "g": 4, "x": 15.96, "y": 1.6e5},
      {"p": 3, "s": "pc", "g": 4, "x": 15.8, "y": 6.3e4},
      {"p": 3, "s": "pc", "g": 4, "x": 15.68, "y": 1e3},
      {"p": 3, "s": "pc", "g": 4, "x": 15.65, "y": 1e-60},
      {"p": 3, "s": "pc", "g": 5, "x": 15.63, "y": 1e-60},
      {"p": 3, "s": "pc", "g": 5, "x": 15.58, "y": 3.2e3},
      {"p": 3, "s": "pc", "g": 5, "x": 15.38, "y": 2.9e4},
      {"p": 3, "s": "pc", "g": 5, "x": 15.2, "y": 1e4},
      {"p": 3, "s": "pc", "g": 5, "x": 15.11, "y": 5e2},
      {"p": 3, "s": "pc", "g": 5, "x": 15.1, "y": 1e-60},
      {"p": 3, "s": "pc", "g": 6, "x": 15.08, "y": 1e-60},
      {"p": 3, "s": "pc", "g": 6, "x": 15.03, "y": 1e3},
      {"p": 3, "s": "pc", "g": 6, "x": 14.81, "y": 8.3e3},
      {"p": 3, "s": "pc", "g": 6, "x": 14.6, "y": 2.5e3},
      {"p": 3, "s": "pc", "g": 6, "x": 14.53, "y": 1e2},
      {"p": 3, "s": "pc", "g": 6, "x": 14.52, "y": 1e-60},
      {"p": 3, "s": "pc", "g": 7, "x": 14.5, "y": 1e-60},
      {"p": 3, "s": "pc", "g": 7, "x": 14.45, "y": 1e3},
      {"p": 3, "s": "pc", "g": 7, "x": 14.27, "y": 8.3e3},
      {"p": 3, "s": "pc", "g": 7, "x": 14.1, "y": 3.2e3},
      {"p": 3, "s": "pc", "g": 7, "x": 13.98, "y": 1e2},
      {"p": 3, "s": "pc", "g": 7, "x": 13.96, "y": 1e-60},
      {"p": 3, "s": "pc", "g": 8, "x": 13.48, "y": 1e-60},
      {"p": 3, "s": "pc", "g": 8, "x": 13.42, "y": 1e3},
      {"p": 3, "s": "pc", "g": 8, "x": 13.3, "y": 4e3},
      {"p": 3, "s": "pc", "g": 8, "x": 13.17, "y": 6e3},
      {"p": 3, "s": "pc", "g": 8, "x": 12.9, "y": 4e3},
      {"p": 3, "s": "pc", "g": 8, "x": 12.63, "y": 9.3e2},
      {"p": 3, "s": "pc", "g": 8, "x": 12.4, "y": 1.6e3},
      {"p": 3, "s": "pc", "g": 8, "x": 12.2, "y": 2.1e3},
      {"p": 3, "s": "pc", "g": 8, "x": 11.58, "y": 2e3},
      {"p": 3, "s": "pc", "g": 8, "x": 10.0, "y": 2.1e3},
      {"p": 3, "s": "pc", "g": 8, "x": 5.0, "y": 6e3},
      {"p": 3, "s": "pc", "g": 8, "x": 2.0, "y": 2.1e4},
      {"p": 3, "s": "pc", "g": 8, "x": 0.0, "y": 1.2e5},

      {"p": 3, "s": "pcn", "g": 0, "x": 23.6, "y": 3.2e-22},
      {"p": 3, "s": "pcn", "g": 0, "x": 23.4, "y": 5e-22},
      {"p": 3, "s": "pcn", "g": 0, "x": 23.0, "y": 7.9e-22},
      {"p": 3, "s": "pcn", "g": 0, "x": 22.65, "y": 7.9e-22},
      {"p": 3, "s": "pcn", "g": 0, "x": 21.56, "y": 5e-21},
      {"p": 3, "s": "pcn", "g": 0, "x": 20.46, "y": 6.3e-20},
      {"p": 3, "s": "pcn", "g": 0, "x": 19.91, "y": 1.4e-19},
      {"p": 3, "s": "pcn", "g": 0, "x": 19.75, "y": 1.26e-19},
      {"p": 3, "s": "pcn", "g": 0, "x": 19.69, "y": 8.7e-20},
      {"p": 3, "s": "pcn", "g": 0, "x": 19.64, "y": 1e-21},
      {"p": 3, "s": "pcn", "g": 0, "x": 19.62, "y": 1e-60},
      {"p": 3, "s": "pcn", "g": 1, "x": 18.94, "y": 1e-60},
      {"p": 3, "s": "pcn", "g": 1, "x": 18.92, "y": 3.2e-18},
      {"p": 3, "s": "pcn", "g": 1, "x": 18.85, "y": 3.2e-17},
      {"p": 3, "s": "pcn", "g": 1, "x": 18.6, "y": 1e-14},
      {"p": 3, "s": "pcn", "g": 1, "x": 18.3, "y": 3.2e-12},
      {"p": 3, "s": "pcn", "g": 1, "x": 18.0, "y": 1e-8},
      {"p": 3, "s": "pcn", "g": 1, "x": 17.75, "y": 1e-5},
      {"p": 3, "s": "pcn", "g": 1, "x": 17.5, "y": 1e-2},
      {"p": 3, "s": "pcn", "g": 1, "x": 17.3, "y": 3.2},
      {"p": 3, "s": "pcn", "g": 1, "x": 17.1, "y": 3.2e3},
      {"p": 3, "s": "pcn", "g": 1, "x": 16.95, "y": 2e5},
      {"p": 3, "s": "pcn", "g": 1, "x": 16.86, "y": 6.5e5},
      {"p": 3, "s": "pcn", "g": 1, "x": 16.78, "y": 3.2e5},
      {"p": 3, "s": "pcn", "g": 1, "x": 16.73, "y": 3e4},
      {"p": 3, "s": "pcn", "g": 1, "x": 16.71, "y": 1e-60},
      {"p": 3, "s": "pcn", "g": 2, "x": 13.96, "y": 1e-60},
      {"p": 3, "s": "pcn", "g": 2, "x": 13.92, "y": 1e2},
      {"p": 3, "s": "pcn", "g": 2, "x": 13.72, "y": 2.3e3},
      {"p": 3, "s": "pcn", "g": 2, "x": 13.55, "y": 8e2},
      {"p": 3, "s": "pcn", "g": 2, "x": 13.5, "y": 1e2},
      {"p": 3, "s": "pcn", "g": 2, "x": 13.48, "y": 1e-60}
    ]
  },
  "vconcat": [
    {
      "width": 718,
      "height": 388,
      "title": {"text": "k\u2800\u2800", "subtitle": "\u2800\u2800CMB", "dx": -6},
      "layer": [
        {
          "data": {"name": "curves"},
          "transform": [{"filter": "datum.p == 1 && datum.s != 'pcn'"}],
          "mark": {"type": "line", "strokeWidth": 1.5, "clip": true},
          "encoding": {
            "x": {"field": "x", "type": "quantitative", "scale": {"domain": [0, 55], "reverse": true, "nice": false, "zero": false}, "axis": {"values": [0, 10, 20, 30, 40, 50], "title": null}},
            "y": {"field": "y", "type": "quantitative", "scale": {"type": "log", "domain": [4e-47, 3.2e8], "nice": false}, "axis": {"values": [1e3, 1e-7, 1e-17, 1e-27, 1e-37], "title": null, "labelExpr": "'10' + replace(replace(replace(replace(replace(replace(replace(replace(replace(replace(replace('' + round(log(datum.value) / LN10), regexp('-', 'g'), '⁻'), regexp('0', 'g'), '⁰'), regexp('1', 'g'), '¹'), regexp('2', 'g'), '²'), regexp('3', 'g'), '³'), regexp('4', 'g'), '⁴'), regexp('5', 'g'), '⁵'), regexp('6', 'g'), '⁶'), regexp('7', 'g'), '⁷'), regexp('8', 'g'), '⁸'), regexp('9', 'g'), '⁹')"}},
            "color": {"field": "s", "type": "nominal", "scale": {"domain": ["pp", "cc", "pc"], "range": ["#440154", "#21918c", "#fde725"]}, "legend": null},
            "detail": {"field": "g", "type": "nominal"},
            "order": {"value": null}
          }
        },
        {
          "data": {"name": "curves"},
          "transform": [{"filter": "datum.p == 1 && datum.s == 'pcn'"}],
          "mark": {"type": "line", "strokeWidth": 1.5, "strokeDash": [5, 3], "color": "#fde725", "clip": true},
          "encoding": {
            "x": {"field": "x", "type": "quantitative"},
            "y": {"field": "y", "type": "quantitative"},
            "detail": {"field": "g", "type": "nominal"},
            "order": {"value": null}
          }
        },
        {
          "data": {"name": "refs"},
          "transform": [{"filter": "datum.p == 1"}],
          "mark": {"type": "rule", "strokeWidth": 1.5, "strokeDash": [7, 3, 1.5, 3]},
          "encoding": {
            "x": {"field": "x1", "type": "quantitative"},
            "x2": {"field": "x2"},
            "y": {"field": "y", "type": "quantitative"},
            "color": {"field": "s", "type": "nominal", "legend": null}
          }
        },
        {
          "data": {"name": "vl"},
          "transform": [{"filter": "datum.p == 1"}],
          "mark": {"type": "rule", "color": "#7f7f7f", "strokeWidth": 2.5, "strokeDash": [10, 5]},
          "encoding": {"x": {"field": "x", "type": "quantitative"}}
        }
      ]
    },
    {
      "width": 718,
      "height": 388,
      "title": {"text": "k\u2800\u2800", "subtitle": "\u2800dip"},
      "layer": [
        {
          "data": {"name": "curves"},
          "transform": [{"filter": "datum.p == 2 && datum.s != 'pcn'"}],
          "mark": {"type": "line", "strokeWidth": 1.5, "clip": true},
          "encoding": {
            "x": {"field": "x", "type": "quantitative", "scale": {"domain": [0, 32.1], "reverse": true, "nice": false, "zero": false}, "axis": {"values": [0, 5, 10, 15, 20, 25, 30], "title": null}},
            "y": {"field": "y", "type": "quantitative", "scale": {"type": "log", "domain": [8e-34, 6.3e7], "nice": false}, "axis": {"values": [1e1, 1e-6, 1e-13, 1e-20, 1e-27], "title": null, "labelExpr": "'10' + replace(replace(replace(replace(replace(replace(replace(replace(replace(replace(replace('' + round(log(datum.value) / LN10), regexp('-', 'g'), '⁻'), regexp('0', 'g'), '⁰'), regexp('1', 'g'), '¹'), regexp('2', 'g'), '²'), regexp('3', 'g'), '³'), regexp('4', 'g'), '⁴'), regexp('5', 'g'), '⁵'), regexp('6', 'g'), '⁶'), regexp('7', 'g'), '⁷'), regexp('8', 'g'), '⁸'), regexp('9', 'g'), '⁹')"}},
            "color": {"field": "s", "type": "nominal", "scale": {"domain": ["pp", "cc", "pc"], "range": ["#440154", "#21918c", "#fde725"]}, "legend": null},
            "detail": {"field": "g", "type": "nominal"},
            "order": {"value": null}
          }
        },
        {
          "data": {"name": "curves"},
          "transform": [{"filter": "datum.p == 2 && datum.s == 'pcn'"}],
          "mark": {"type": "line", "strokeWidth": 1.5, "strokeDash": [5, 3], "color": "#fde725", "clip": true},
          "encoding": {
            "x": {"field": "x", "type": "quantitative"},
            "y": {"field": "y", "type": "quantitative"},
            "detail": {"field": "g", "type": "nominal"},
            "order": {"value": null}
          }
        },
        {
          "data": {"name": "refs"},
          "transform": [{"filter": "datum.p == 2"}],
          "mark": {"type": "rule", "strokeWidth": 1.5, "strokeDash": [7, 3, 1.5, 3]},
          "encoding": {
            "x": {"field": "x1", "type": "quantitative"},
            "x2": {"field": "x2"},
            "y": {"field": "y", "type": "quantitative"},
            "color": {"field": "s", "type": "nominal", "legend": null}
          }
        },
        {
          "data": {"name": "vl"},
          "transform": [{"filter": "datum.p == 2"}],
          "mark": {"type": "rule", "color": "#7f7f7f", "strokeWidth": 2.5, "strokeDash": [10, 5]},
          "encoding": {"x": {"field": "x", "type": "quantitative"}}
        }
      ]
    },
    {
      "width": 718,
      "height": 388,
      "title": {"text": "k\u2800\u2800\u2800", "subtitle": "\u2800peak"},
      "layer": [
        {
          "data": {"name": "curves"},
          "transform": [{"filter": "datum.p == 3 && datum.s != 'pcn'"}],
          "mark": {"type": "line", "strokeWidth": 1.5, "clip": true},
          "encoding": {
            "x": {"field": "x", "type": "quantitative", "scale": {"domain": [0, 23.6], "reverse": true, "nice": false, "zero": false}, "axis": {"values": [0, 5, 10, 15, 20], "title": "Δ𝑁", "titlePadding": 13, "maxExtent": 90}},
            "y": {"field": "y", "type": "quantitative", "scale": {"type": "log", "domain": [3.2e-24, 7.9e7], "nice": false}, "axis": {"values": [1e6, 1, 1e-6, 1e-12, 1e-18], "title": null, "labelExpr": "'10' + replace(replace(replace(replace(replace(replace(replace(replace(replace(replace(replace('' + round(log(datum.value) / LN10), regexp('-', 'g'), '⁻'), regexp('0', 'g'), '⁰'), regexp('1', 'g'), '¹'), regexp('2', 'g'), '²'), regexp('3', 'g'), '³'), regexp('4', 'g'), '⁴'), regexp('5', 'g'), '⁵'), regexp('6', 'g'), '⁶'), regexp('7', 'g'), '⁷'), regexp('8', 'g'), '⁸'), regexp('9', 'g'), '⁹')"}},
            "color": {"field": "s", "type": "nominal", "scale": {"domain": ["pp", "cc", "pc"], "range": ["#440154", "#21918c", "#fde725"]},
              "legend": {"orient": "bottom-right", "offset": 10, "title": null, "symbolType": "stroke", "symbolStrokeWidth": 1.5, "symbolSize": 3600, "symbolDash": [1, 0], "symbolOffset": 4, "labelFont": "DejaVu Sans", "labelFontSize": 29, "labelColor": "black", "padding": 8, "rowPadding": -2, "fillColor": "white", "strokeColor": "#cccccc", "cornerRadius": 5, "labelOffset": 22, "labelExpr": "datum.label == 'pp' ? '𝒫ᵩ̇ᵩ̇' : datum.label == 'cc' ? '𝒫ᵪ̇ᵪ̇' : '𝒫ᵩ̇ᵪ̇ = 𝒫ᵪ̇ᵩ̇'"}},
            "detail": {"field": "g", "type": "nominal"},
            "order": {"value": null}
          }
        },
        {
          "data": {"name": "curves"},
          "transform": [{"filter": "datum.p == 3 && datum.s == 'pcn'"}],
          "mark": {"type": "line", "strokeWidth": 1.5, "strokeDash": [5, 3], "color": "#fde725", "clip": true},
          "encoding": {
            "x": {"field": "x", "type": "quantitative"},
            "y": {"field": "y", "type": "quantitative"},
            "detail": {"field": "g", "type": "nominal"},
            "order": {"value": null}
          }
        },
        {
          "data": {"name": "refs"},
          "transform": [{"filter": "datum.p == 3"}],
          "mark": {"type": "rule", "strokeWidth": 1.5, "strokeDash": [7, 3, 1.5, 3]},
          "encoding": {
            "x": {"field": "x1", "type": "quantitative"},
            "x2": {"field": "x2"},
            "y": {"field": "y", "type": "quantitative"},
            "color": {"field": "s", "type": "nominal"}
          }
        },
        {
          "data": {"name": "vl"},
          "transform": [{"filter": "datum.p == 3"}],
          "mark": {"type": "rule", "color": "#7f7f7f", "strokeWidth": 2.5, "strokeDash": [10, 5]},
          "encoding": {"x": {"field": "x", "type": "quantitative"}}
        }
      ]
    }
  ]
}
